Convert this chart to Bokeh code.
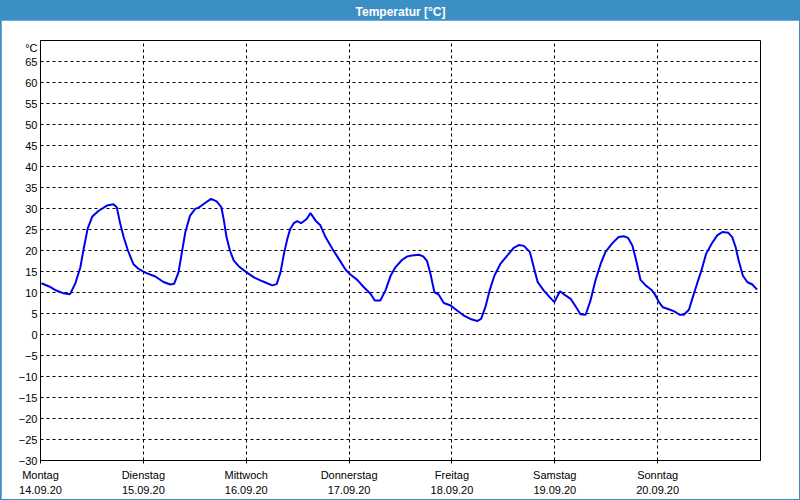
from bokeh.plotting import figure
from bokeh.models import Range1d, FixedTicker, LinearAxis, Label, Grid
from bokeh.layouts import column
from bokeh.embed import file_html
from bokeh.resources import INLINE

# ---- data -------------------------------------------------------------
# hours since Monday 14.09.20 00:00
hours = [0.2, 1.9, 3.4, 5.4, 6.9, 8.1, 9.3, 10.0, 11.0, 12.1, 13.5, 15.5, 17.0, 17.8,
         18.6, 19.4, 20.4, 21.7, 22.9, 24.3, 26.8, 28.7, 30.3, 31.2, 32.2, 33.0, 33.8,
         34.9, 36.1, 36.9, 38.4, 39.8, 41.1, 42.2, 42.8, 43.4, 44.2, 45.1, 46.3, 48.1,
         49.8, 51.3, 52.9, 54.1, 55.1, 56.0, 56.8, 57.6, 58.3, 59.1, 59.9, 60.8, 62.1,
         63.0, 64.2, 65.3, 66.5, 68.1, 69.6, 71.2, 72.3, 73.9, 75.4, 77.0, 78.0, 79.3,
         80.5, 81.7, 82.8, 84.4, 85.6, 86.7, 88.3, 89.3, 90.2, 91.0, 91.9, 92.9, 94.1,
         95.7, 97.2, 98.8, 100.3, 101.9, 102.8, 103.8, 104.8, 105.9, 107.3, 108.9, 110.4,
         111.6, 112.8, 114.2, 115.1, 116.0, 117.4, 118.8, 119.9, 121.2, 122.5, 123.7,
         124.8, 126.0, 127.2, 128.3, 129.5, 130.7, 131.8, 133.4, 134.9, 136.1, 137.1,
         138.1, 139.0, 140.0, 141.2, 142.6, 143.5, 144.3, 145.2, 146.6, 147.9, 149.1,
         150.1, 151.3, 152.2, 153.2, 154.2, 155.3, 156.6, 157.9, 159.1, 160.5, 161.4,
         162.2, 162.9, 163.9, 164.9, 166.1, 167.2]
temps = [12.2, 11.5, 10.6, 9.8, 9.6, 12.1, 16.0, 20.0, 25.2, 28.1, 29.4, 30.7, 31.0, 30.3,
         26.4, 23.2, 20.0, 16.7, 15.6, 14.8, 13.8, 12.5, 11.9, 12.1, 14.8, 19.6, 24.4,
         28.3, 29.9, 30.2, 31.3, 32.3, 31.7, 30.3, 27.1, 23.2, 20.0, 17.6, 16.2, 14.8,
         13.6, 12.9, 12.2, 11.7, 12.0, 14.8, 19.2, 22.8, 25.2, 26.5, 27.0, 26.5, 27.5,
         28.9, 27.1, 26.0, 23.2, 20.4, 18.0, 15.4, 14.3, 13.0, 11.3, 9.7, 8.1, 8.1,
         10.5, 14.0, 16.0, 17.8, 18.6, 18.8, 19.0, 18.6, 17.5, 14.4, 10.1, 9.5, 7.5,
         6.9, 5.7, 4.5, 3.7, 3.2, 3.7, 6.5, 10.5, 14.0, 16.8, 18.8, 20.6,
         21.3, 21.1, 19.6, 16.0, 12.5, 10.5, 8.9, 7.7, 10.3, 9.3, 8.5,
         6.8, 4.8, 4.7, 8.0, 12.9, 16.8, 19.6, 21.7, 23.2, 23.4, 23.0,
         21.2, 17.6, 13.0, 11.7, 10.6, 9.3, 7.7, 6.5, 6.0, 5.5, 4.7,
         4.7, 5.9, 8.9, 12.1, 15.2, 19.2, 21.6, 23.6, 24.4, 24.2, 23.2,
         20.8, 17.6, 14.0, 12.5, 11.9, 10.7]

day_ticks = [0, 24, 48, 72, 96, 120, 144]
day_names = ["Montag", "Dienstag", "Mittwoch", "Donnerstag", "Freitag", "Samstag", "Sonntag"]
day_dates = ["14.09.20", "15.09.20", "16.09.20", "17.09.20", "18.09.20", "19.09.20", "20.09.20"]
y_ticks = list(range(-30, 70, 5)) + [70]
y_unit = "°C"
title_text = "Temperatur [°C]"

# ---- style ------------------------------------------------------------
FONT = "Liberation Sans"
BAR = "#3c8fc4"
LINE = "#0000f0"

header = figure(width=800, height=20, x_range=Range1d(0, 1), y_range=Range1d(0, 1),
                toolbar_location=None, output_backend="svg", x_axis_type=None,
                y_axis_type=None, min_border=0, background_fill_color=BAR,
                border_fill_color=BAR, outline_line_color=None)
header.add_layout(Label(x=0.5, y=0.45, text=title_text, text_align="center",
                        text_baseline="middle", text_color="white", text_font=FONT,
                        text_font_style="bold", text_font_size="12px"))

p = figure(width=798, height=479, x_range=Range1d(0, 168), y_range=Range1d(-30, 70),
           toolbar_location=None, output_backend="svg", x_axis_type=None, y_axis_type=None,
           min_border_left=39, min_border_right=39, min_border_top=20, min_border_bottom=39,
           background_fill_color="white", border_fill_color="white",
           outline_line_color="black", outline_line_width=1)
p.margin = (0, 1, 1, 1)

yaxis = LinearAxis(ticker=FixedTicker(ticks=y_ticks, minor_ticks=[]),
                   major_label_overrides={70: "\n" + y_unit})
yaxis.major_tick_out = 0
yaxis.major_tick_in = 0
yaxis.minor_tick_out = 0
yaxis.major_label_standoff = 3
yaxis.axis_line_color = "black"
yaxis.major_label_text_font = FONT
yaxis.major_label_text_font_size = "11px"
yaxis.major_label_text_color = "black"
p.add_layout(yaxis, "left")

xaxis1 = LinearAxis(ticker=FixedTicker(ticks=day_ticks, minor_ticks=[]),
                    major_label_overrides={t: n for t, n in zip(day_ticks, day_names)})
xaxis1.major_tick_out = 3
xaxis1.major_tick_in = 0
xaxis1.minor_tick_out = 0
xaxis1.major_label_standoff = 5
xaxis1.axis_line_color = "black"
xaxis1.major_label_text_font = FONT
xaxis1.major_label_text_font_size = "11px"
xaxis1.major_label_text_color = "black"
p.add_layout(xaxis1, "below")

xaxis2 = LinearAxis(ticker=FixedTicker(ticks=day_ticks, minor_ticks=[]),
                    major_label_overrides={t: d for t, d in zip(day_ticks, day_dates)})
xaxis2.major_tick_out = 0
xaxis2.major_tick_in = 0
xaxis2.minor_tick_out = 0
xaxis2.major_label_standoff = 2
xaxis2.axis_line_color = None
xaxis2.major_tick_line_color = None
xaxis2.major_label_text_font = FONT
xaxis2.major_label_text_font_size = "11px"
xaxis2.major_label_text_color = "black"
p.add_layout(xaxis2, "below")

p.add_layout(Grid(dimension=0, ticker=xaxis1.ticker, grid_line_color="black",
                  grid_line_dash="3 3", grid_line_width=1))
p.add_layout(Grid(dimension=1, ticker=yaxis.ticker, grid_line_color="black",
                  grid_line_dash="3 3", grid_line_width=1))

p.line(hours, temps, line_color=LINE, line_width=2)

layout = column(header, p, styles={"background-color": BAR}, spacing=0)

open("out.html", "w").write(file_html(layout, INLINE))
